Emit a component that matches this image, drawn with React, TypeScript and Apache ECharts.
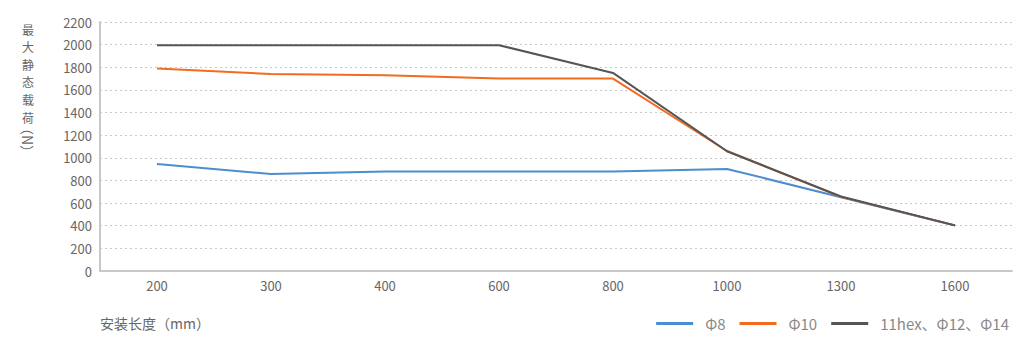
import React, { useEffect, useRef } from "react";
import * as echarts from "echarts";

const categories = ["200", "300", "400", "600", "800", "1000", "1300", "1600"];
const phi8 = [945, 857, 880, 880, 880, 902, 652, 402];
const phi10 = [1790, 1740, 1730, 1700, 1700, 1060, 655, 403];
const hex = [1995, 1995, 1995, 1995, 1750, 1058, 658, 403];
const seriesNames = ["Φ8", "Φ10", "11hex、Φ12、Φ14"];
const colors = ["#4a8ecf", "#f26b21", "#555555"];
const yTicks = { min: 0, max: 2200, interval: 200 };
const yNameChars = ["最", "大", "静", "态", "载", "荷"];

export default function App() {
  const ref = useRef<HTMLDivElement>(null);
  useEffect(() => {
    const chart = echarts.init(ref.current!, null, { renderer: "svg" });
    const font = "'Noto Sans CJK SC', 'Noto Sans', sans-serif";
    const graphics: any[] = yNameChars.map((c, i) => ({
      type: "text",
      x: 28,
      y: 29 + i * 17.6,
      style: {
        text: c,
        fontSize: 12,
        lineHeight: 12,
        fill: "#666",
        fontFamily: font,
        align: "center",
        verticalAlign: "middle",
      },
    }));
    graphics.push(
      {
        type: "text",
        x: 28,
        y: 140,
        rotation: -Math.PI / 2,
        style: {
          text: "（N）",
          fontSize: 14,
          fill: "#666",
          fontFamily: font,
          align: "center",
          verticalAlign: "middle",
        },
      },
      {
        type: "text",
        left: 100,
        top: 316,
        style: { text: "安装长度（mm）", fontSize: 14, fill: "#666", fontFamily: font },
      }
    );
    const data = [phi8, phi10, hex];
    chart.setOption({
      animation: false,
      color: colors,
      textStyle: { fontFamily: font },
      grid: { left: 100, right: 19, top: 22, bottom: 80 },
      legend: {
        right: 17,
        top: 311,
        icon: "rect",
        itemWidth: 37,
        itemHeight: 3,
        itemGap: 14,
        textStyle: { color: "#888", fontSize: 15, padding: [0, 0, 0, 7] },
        data: seriesNames,
      },
      xAxis: [
        {
          type: "category",
          data: categories,
          boundaryGap: true,
          axisLine: { lineStyle: { color: "#c8c8c8", width: 2 } },
          axisTick: { inside: true, length: 8, lineStyle: { color: "#555", width: 1 } },
          axisLabel: { color: "#666", fontSize: 13, margin: 8 },
        },
        {
          type: "category",
          data: categories,
          position: "bottom",
          boundaryGap: true,
          axisLine: { show: false },
          axisTick: { inside: true, alignWithLabel: true, length: 8, lineStyle: { color: "#555", width: 1 } },
          axisLabel: { show: false },
        },
      ],
      yAxis: {
        type: "value",
        min: yTicks.min,
        max: yTicks.max,
        interval: yTicks.interval,
        axisLine: { show: true, lineStyle: { color: "#c8c8c8", width: 2 } },
        axisTick: { show: false },
        axisLabel: { color: "#666", fontSize: 13, margin: 8, formatter: (v: number) => String(v) },
        splitLine: { lineStyle: { color: "#c8c8c8", type: [2, 3] } },
      },
      graphic: graphics,
      series: data.map((d, i) => ({
        name: seriesNames[i],
        type: "line",
        data: d,
        symbol: "none",
        lineStyle: { width: 2, color: colors[i] },
      })),
    });
    return () => chart.dispose();
  }, []);
  return <div ref={ref} style={{ width: 1031, height: 351, margin: -8 }} />;
}
